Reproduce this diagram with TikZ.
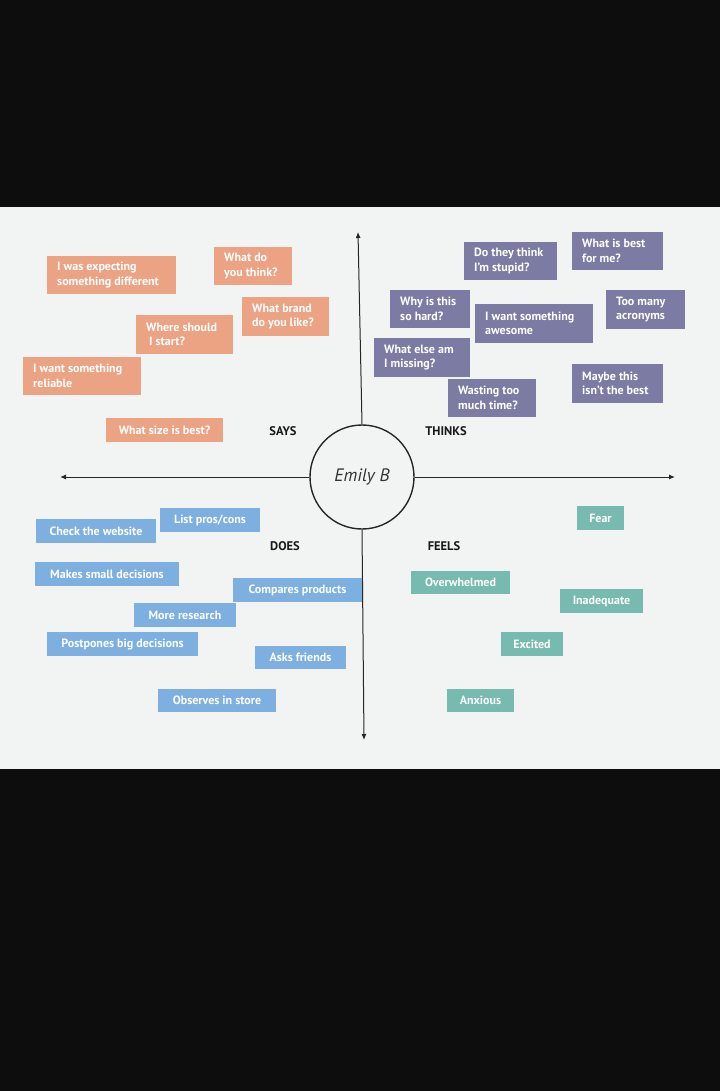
\documentclass[tikz,border=0pt]{standalone}
\usepackage{fontspec}
\setmainfont{PT Sans}
\usetikzlibrary{arrows.meta}
\definecolor{bgblack}{HTML}{0D0D0D}
\definecolor{panel}{HTML}{F2F3F3}
\definecolor{sayc}{HTML}{EBA384}
\definecolor{thinkc}{HTML}{7B7BA3}
\definecolor{doesc}{HTML}{7DAFE0}
\definecolor{feelc}{HTML}{76BAB0}
\newcommand\boxfont{\fontsize{12}{14.5}\selectfont\bfseries}
% name, style, x1, y1, x2, y2, align (left/center), text
\newcommand\mkbox[8]{%
  \pgfmathsetmacro\mybw{#5-#3}%
  \pgfmathsetmacro\mybh{#6-#4}%
  \pgfmathsetmacro\mycx{(#3+#5)/2}%
  \pgfmathsetmacro\mycy{(#4+#6)/2}%
  \node[#2, minimum width=\mybw pt, minimum height=\mybh pt] (#1) at (\mycx,\mycy) {};%
  \ifx#7l%
    \node[cardtext, anchor=west, align=left] (#1t) at ([xshift=10pt]#1.west) {#8};%
  \else
    \node[cardtext, align=center] (#1t) at (#1.center) {#8};%
  \fi
}
\tikzset{
  card/.style={inner sep=0pt, outer sep=0pt},
  cardtext/.style={inner sep=0pt, font=\boxfont, text=white},
  saybox/.style={card, fill=sayc},
  thinkbox/.style={card, fill=thinkc},
  doesbox/.style={card, fill=doesc},
  feelbox/.style={card, fill=feelc},
  quad/.style={font=\fontsize{12.5}{14}\selectfont\bfseries, text=black!90},
  axis/.style={line width=1pt, draw=black!85, -{Latex[length=6pt,width=5pt]}},
}
\begin{document}
\begin{tikzpicture}[x=1pt,y=-1pt]
\useasboundingbox (0,0) rectangle (720,1091);
\fill[bgblack] (0,0) rectangle (720,1091);
\fill[panel] (0,207) rectangle (720,769);

% centre and axes
\node[circle, draw=black!85, line width=1.4pt, minimum size=104pt, inner sep=0pt,
      font=\fontsize{18}{20}\selectfont\itshape, text=black!80] (c) at (362,477) {Emily B};
\coordinate (top) at (358,232);
\coordinate (bot) at (364,740);
\coordinate (lft) at (60,477);
\coordinate (rgt) at (675,477);
\draw[axis] (c.north) -- (top);
\draw[axis] (c.south) -- (bot);
\draw[axis] (c.west) -- (lft);
\draw[axis] (c.east) -- (rgt);

% quadrant labels
\node[quad] (says) at (283,431) {SAYS};
\node[quad] (thinks) at (446,431) {THINKS};
\node[quad] (does) at (285,546) {DOES};
\node[quad] (feels) at (444,546) {FEELS};

% SAYS
\mkbox{s1}{saybox}{47}{256}{176}{294}{l}{I was expecting\\something different}
\mkbox{s2}{saybox}{214}{247}{292}{285}{l}{What do\\you think?}
\mkbox{s3}{saybox}{242}{297}{329}{336}{l}{What brand\\do you like?}
\mkbox{s4}{saybox}{136}{315}{233}{354}{l}{Where should\\\ I start?}
\mkbox{s5}{saybox}{23}{357}{141}{395}{l}{I want something\\reliable}
\mkbox{s6}{saybox}{106}{418}{223}{442}{c}{What size is best?}

% THINKS
\mkbox{t1}{thinkbox}{464}{242}{557}{280}{l}{Do they think\\I'm stupid?}
\mkbox{t2}{thinkbox}{572}{232}{663}{270}{l}{What is best\\for me?}
\mkbox{t3}{thinkbox}{390}{290}{470}{328}{l}{Why is this\\so hard?}
\mkbox{t4}{thinkbox}{475}{304}{593}{343}{l}{I want something\\awesome}
\mkbox{t5}{thinkbox}{606}{290}{685}{329}{l}{Too many\\acronyms}
\mkbox{t6}{thinkbox}{374}{338}{470}{377}{l}{What else am\\I missing?}
\mkbox{t7}{thinkbox}{448}{379}{536}{417}{l}{Wasting too\\much time?}
\mkbox{t8}{thinkbox}{572}{364}{663}{403}{l}{Maybe this\\isn't the best}

% DOES
\mkbox{d1}{doesbox}{36}{519}{156}{543}{c}{Check the website}
\mkbox{d2}{doesbox}{160}{508}{260}{532}{c}{List pros/cons}
\mkbox{d3}{doesbox}{35}{562}{179}{586}{c}{Makes small decisions}
\mkbox{d4}{doesbox}{233}{578}{362}{602}{c}{Compares products}
\mkbox{d5}{doesbox}{134}{603}{236}{627}{c}{More research}
\mkbox{d6}{doesbox}{47}{632}{198}{656}{c}{Postpones big decisions}
\mkbox{d7}{doesbox}{255}{646}{346}{669}{c}{Asks friends}
\mkbox{d8}{doesbox}{158}{689}{276}{712}{c}{Observes in store}

% FEELS
\mkbox{f1}{feelbox}{577}{506}{624}{530}{c}{Fear}
\mkbox{f2}{feelbox}{411}{571}{510}{594}{c}{Overwhelmed}
\mkbox{f3}{feelbox}{560}{589}{643}{613}{c}{Inadequate}
\mkbox{f4}{feelbox}{501}{632}{563}{656}{c}{Excited}
\mkbox{f5}{feelbox}{447}{689}{514}{712}{c}{Anxious}
\end{tikzpicture}
\end{document}
